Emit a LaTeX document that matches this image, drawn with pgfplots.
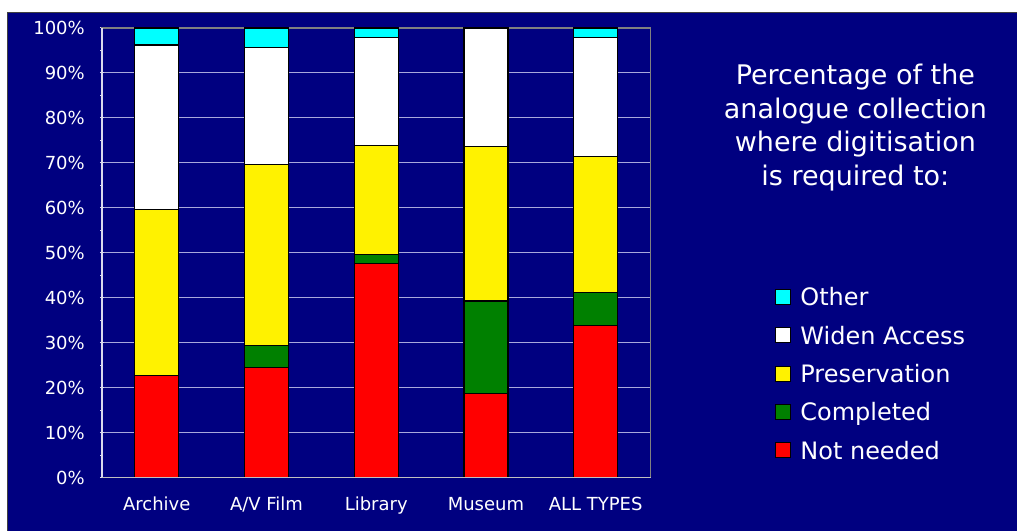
\documentclass[border=0pt]{standalone}
\usepackage{fontspec}
\setmainfont{DejaVu Sans}
\usepackage{pgfplots}
\usepackage{pgfplotstable}
\pgfplotsset{compat=1.18}

\definecolor{navy}{HTML}{000080}
\definecolor{gridc}{HTML}{A8A8DC}
\definecolor{boxgray}{HTML}{808080}
\definecolor{cyanc}{HTML}{00FFFF}
\definecolor{greenc}{HTML}{008000}

% share of the analogue collection, per type (bottom to top)
\pgfplotstableread{
x nn   comp pres widen other
0 22.7 0.0  36.9 36.6  3.8
1 24.5 4.8  40.3 26.0  4.4
2 47.7 1.9  24.2 24.0  2.2
3 18.8 20.5 34.4 26.3  0.0
4 33.9 7.2  30.4 26.3  2.2
}\shares

\begin{document}
\begin{tikzpicture}
\fill[white] (0bp,0bp) rectangle (1018bp,531bp);
\fill[navy] (7bp,0bp) rectangle (1018bp,519bp);
\draw[black!75, line width=1.5bp] (7.75bp,0bp) -- (7.75bp,518.25bp) -- (1018bp,518.25bp);
\begin{axis}[
  at={(102bp,53bp)}, anchor=south west,
  scale only axis, width=549bp, height=450bp,
  ybar stacked, bar width=44bp,
  xmin=-0.5, xmax=4.5, ymin=0, ymax=100,
  xtick={0,...,4},
  xticklabels={Archive,A/V Film,Library,Museum,ALL TYPES},
  ytick={0,10,...,100}, minor y tick num=1,
  ytick pos=left, xtick pos=bottom,
  yticklabel={\pgfmathprintnumber{\tick}\%},
  /pgf/number format/assume math mode=true,
  tick align=center,
  major tick length=4bp, minor tick length=3bp,
  xtick style={draw=none},
  ytick style={draw=white!85!navy, line width=1bp},
  ymajorgrids, major grid style={draw=gridc, line width=1bp},
  axis line style={draw=boxgray, line width=1.2bp},
  tick label style={font=\fontsize{18bp}{20bp}\selectfont, text=white},
  yticklabel style={anchor=east, inner sep=0pt, xshift=-15bp, text height=13.1bp, text depth=0pt},
  xticklabel style={anchor=north, inner sep=0pt, yshift=-18bp, text height=13.1bp, text depth=0pt},
  reverse legend,
  legend style={at={(1.2277,0.4207)}, anchor=north west, draw=none, fill=none,
    inner sep=0pt, outer sep=0pt, text=white,
    font=\fontsize{24bp}{28bp}\selectfont,
    nodes={inner sep=0pt, text height=17.5bp, text depth=0pt},
    /tikz/row sep=20.8bp, /tikz/column sep=9bp, cells={anchor=west}},
  legend image code/.code={\draw[#1, draw=black, line width=1bp] (0bp,-7.5bp) rectangle (15bp,7.5bp);},
  after end axis/.code={
    \draw[white!85!navy, line width=1.2bp] (rel axis cs:0,0) -- (rel axis cs:0,1);
    \draw[black!25, line width=1.2bp] (rel axis cs:0,0) -- (rel axis cs:1,0);
  },
]
\addplot[fill=red, draw=black, line width=1.2bp] table[x=x, y=nn] {\shares};
\addlegendentry{Not needed}
\addplot[fill=greenc, draw=black, line width=1.2bp] table[x=x, y=comp] {\shares};
\addlegendentry{Completed}
\addplot[fill=yellow, draw=black, line width=1.2bp] table[x=x, y=pres] {\shares};
\addlegendentry{Preservation}
\addplot[fill=white, draw=black, line width=1.2bp] table[x=x, y=widen] {\shares};
\addlegendentry{Widen Access}
\addplot[fill=cyanc, draw=black, line width=1.2bp] table[x=x, y=other] {\shares};
\addlegendentry{Other}
\end{axis}
\begin{scope}[every node/.style={text=white, anchor=base, inner sep=0pt, font=\fontsize{27bp}{33bp}\selectfont}]
\node at (856bp,446bp) {Percentage of the};
\node at (856bp,412.5bp) {analogue collection};
\node at (856bp,379bp) {where digitisation};
\node at (856bp,345.5bp) {is required to:};
\end{scope}
\end{tikzpicture}
\end{document}
